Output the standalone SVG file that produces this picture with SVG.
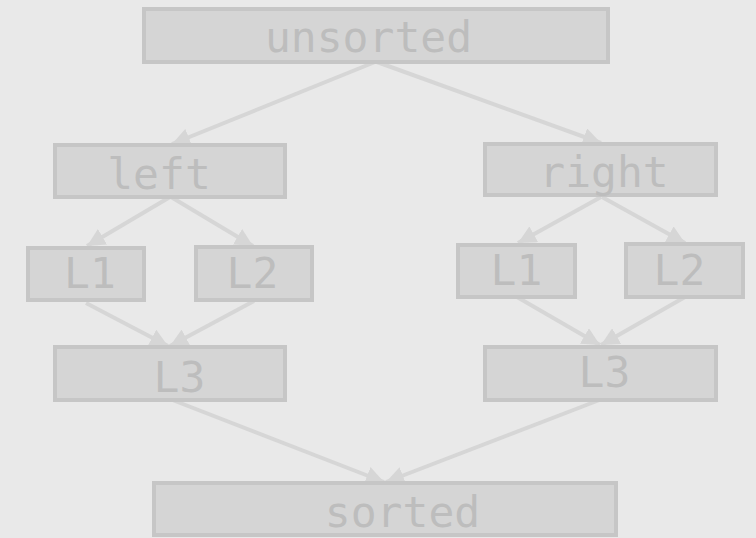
<svg xmlns="http://www.w3.org/2000/svg" width="756" height="538" viewBox="0 0 756 538">
<defs>
<style>
.box{fill:#d5d5d5;stroke:#c6c6c6;stroke-width:4}
.lbl{font-family:"DejaVu Sans Mono","Liberation Mono",monospace;font-size:43px;fill:#bdbdbd;text-anchor:middle}
.edge{stroke:#d6d6d6;stroke-width:4;fill:none;marker-end:url(#ah)}
</style>
<marker id="ah" viewBox="0 0 10 10" refX="10" refY="5" markerWidth="18" markerHeight="18" markerUnits="userSpaceOnUse" orient="auto">
<path d="M0,0 L10,5 L0,10 z" fill="#d6d6d6"/>
</marker>
</defs>
<rect width="756" height="538" fill="#e9e9e9"/>
<g id="connectors">
<path class="edge" d="M375,62 L172,144"/>
<path class="edge" d="M377,62 L601,143"/>
<path class="edge" d="M170,197 L87,246"/>
<path class="edge" d="M171,197 L253,246"/>
<path class="edge" d="M86,303 L168,346"/>
<path class="edge" d="M254,301 L170,346"/>
<path class="edge" d="M601,197 L518,243"/>
<path class="edge" d="M602,197 L685,243"/>
<path class="edge" d="M517,297 L600,345"/>
<path class="edge" d="M685,297 L601,345"/>
<path class="edge" d="M170,399 L384,482"/>
<path class="edge" d="M602,399 L386,482"/>
</g>
<g id="unsorted"><rect class="box" x="144" y="9" width="464" height="53"/><text class="lbl" x="368.5" y="52">unsorted</text></g>
<g id="left"><rect class="box" x="55" y="145" width="230" height="52"/><text class="lbl" x="159" y="189">left</text></g>
<g id="right"><rect class="box" x="485" y="144" width="231" height="51"/><text class="lbl" x="604" y="187">right</text></g>
<g id="left-L1"><rect class="box" x="28" y="248" width="116" height="52"/><text class="lbl" x="90" y="288">L1</text></g>
<g id="left-L2"><rect class="box" x="196" y="247" width="116" height="53"/><text class="lbl" x="252.5" y="288">L2</text></g>
<g id="left-L3"><rect class="box" x="55" y="347" width="230" height="53"/><text class="lbl" x="179.5" y="392">L3</text></g>
<g id="right-L1"><rect class="box" x="458" y="245" width="117" height="52"/><text class="lbl" x="516.5" y="285">L1</text></g>
<g id="right-L2"><rect class="box" x="626" y="244" width="117" height="53"/><text class="lbl" x="679.5" y="285">L2</text></g>
<g id="right-L3"><rect class="box" x="485" y="347" width="231" height="53"/><text class="lbl" x="604.5" y="387">L3</text></g>
<g id="sorted"><rect class="box" x="154" y="483" width="462" height="52"/><text class="lbl" x="402.5" y="527">sorted</text></g>
</svg>
